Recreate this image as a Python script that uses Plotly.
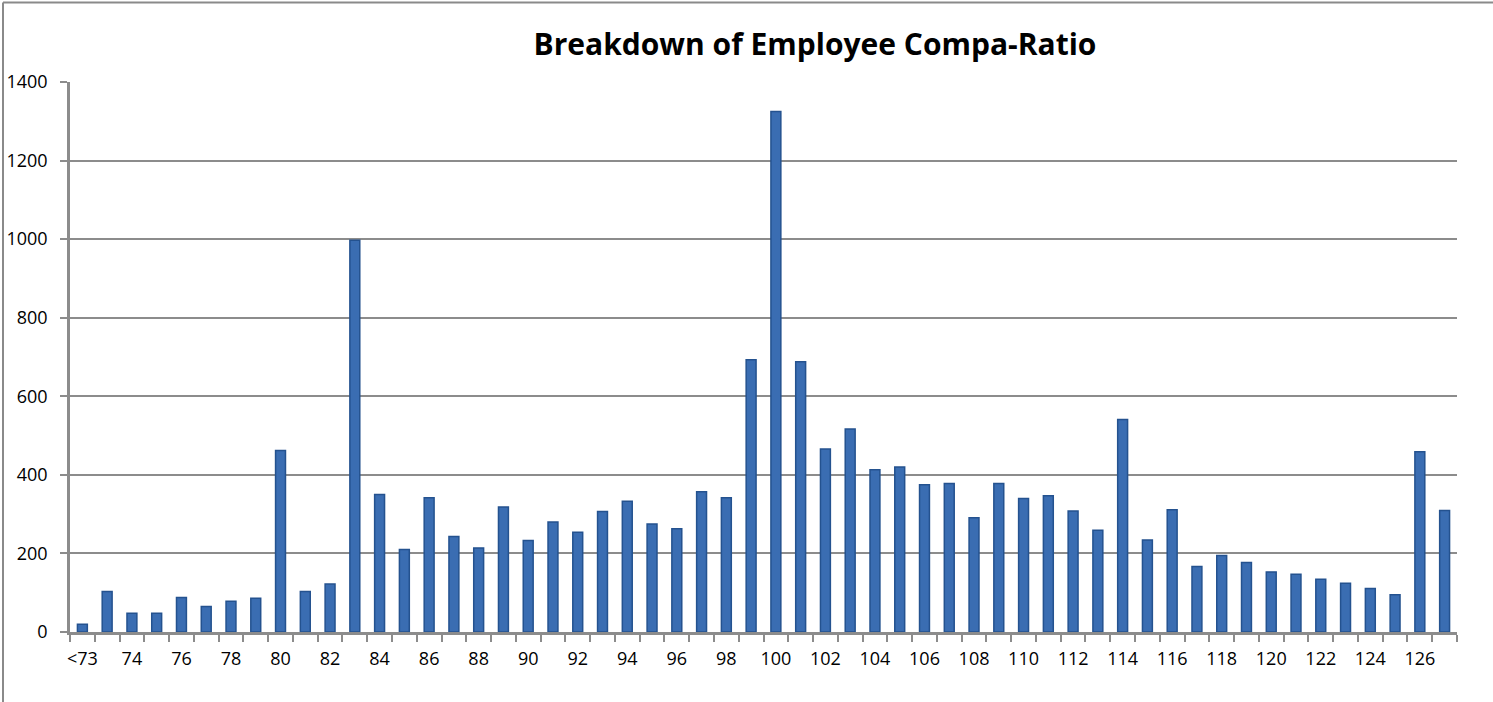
import plotly.graph_objects as go

categories = ["<73"] + [str(v) for v in range(73, 128)]
counts = [20, 103, 48, 48, 88, 65, 78, 86, 462, 103, 122, 997, 350, 210, 342, 243,
          214, 318, 233, 280, 254, 307, 333, 275, 263, 357, 342, 693, 1325, 688,
          466, 517, 413, 420, 375, 378, 291, 378, 340, 347, 308, 259, 541, 234,
          311, 167, 195, 177, 153, 147, 134, 124, 111, 95, 459, 309]
tick_labels = [c if (i % 2 == 0) else "" for i, c in enumerate(categories)]
y_ticks = [0, 200, 400, 600, 800, 1000, 1200, 1400]

W, H = 1493, 702
ml, mr, mt, mb = 70, 36, 82, 70
pw, ph = W - ml - mr, H - mt - mb

FONT = "Open Sans, Lato, sans-serif"

fig = go.Figure()
fig.add_trace(go.Bar(
    x=categories, y=counts,
    marker=dict(color="#3a6db2", line=dict(color="#24528f", width=1.5)),
    hoverinfo="x+y",
))

grid = "#8c8c8c"
fig.update_layout(
    template="none",
    width=W, height=H,
    margin=dict(l=ml, r=mr, t=mt, b=mb, autoexpand=False),
    paper_bgcolor="white", plot_bgcolor="white",
    bargap=0.6,
    showlegend=False,
    font=dict(family=FONT, size=18, color="black"),
    title=dict(text="<b>Breakdown of Employee Compa-Ratio</b>",
               x=815 / W, xanchor="center", y=1 - 44 / H, yanchor="middle",
               font=dict(family=FONT, size=30, color="black")),
    xaxis=dict(
        type="category", categoryorder="array", categoryarray=categories,
        tickmode="array", tickvals=categories, ticktext=tick_labels,
        tickson="boundaries", ticks="outside", ticklen=7, tickwidth=1.5, tickcolor=grid,
        showline=True, linecolor=grid, linewidth=2.5,
        showgrid=False, tickangle=0, tickfont=dict(size=18),
        ticklabelstandoff=9, automargin=False,
        range=[-0.5, len(categories) - 0.5],
    ),
    yaxis=dict(
        range=[0, 1400], tickmode="array", tickvals=y_ticks,
        ticks="outside", ticklen=7, tickwidth=1.5, tickcolor=grid,
        showgrid=True, gridcolor=grid, gridwidth=1.5,
        showline=True, linecolor=grid, linewidth=2.5,
        zeroline=False, tickfont=dict(size=18),
        ticklabelstandoff=9, automargin=False,
    ),
    shapes=[
        dict(type="line", xref="paper", yref="paper",
             x0=(3 - ml) / pw, x1=(W + 10 - ml) / pw,
             y0=1 + (mt - 2.5) / ph, y1=1 + (mt - 2.5) / ph,
             line=dict(color="#8a8a8a", width=2)),
        dict(type="line", xref="paper", yref="paper",
             x0=(3 - ml) / pw, x1=(3 - ml) / pw,
             y0=1 + (mt - 2.5) / ph, y1=-(mb + 10) / ph,
             line=dict(color="#8a8a8a", width=2)),
    ],
)

fig.write_html("out.html", config={"displayModeBar": False},
               post_script="document.body.style.margin='0';document.body.style.padding='0';")
